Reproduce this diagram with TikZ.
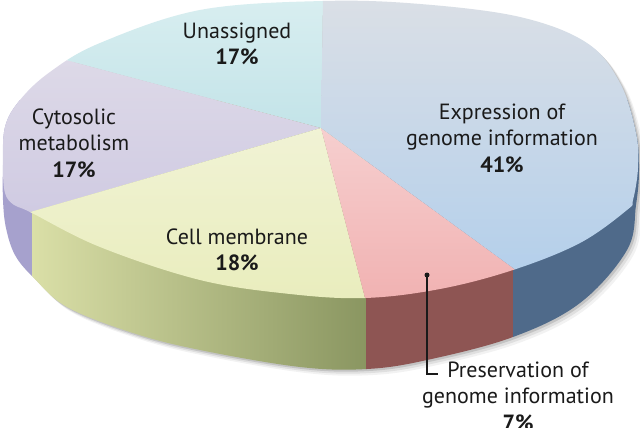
\documentclass[tikz,border=0pt]{standalone}
\usepackage{fontspec}
\setmainfont{PT Sans}
\definecolor{cyanA}{HTML}{D8EEF0}
\definecolor{cyanB}{HTML}{C2E3E8}
\definecolor{purA}{HTML}{DEDAE8}
\definecolor{purB}{HTML}{CFCAE2}
\definecolor{yelA}{HTML}{F1F3D6}
\definecolor{yelB}{HTML}{E9EDBD}
\definecolor{pinkA}{HTML}{F6D0D0}
\definecolor{pinkB}{HTML}{F1B2B2}
\definecolor{bluA}{HTML}{DADFE6}
\definecolor{bluB}{HTML}{B3CFEB}
\definecolor{sidePur}{HTML}{A6A1CD}
\definecolor{sideGrnA}{HTML}{DADFA7}
\definecolor{sideGrnB}{HTML}{8A9661}
\definecolor{sideRed}{HTML}{8E5553}
\definecolor{sideBlu}{HTML}{4F6A8A}
\definecolor{txt}{HTML}{1A1A1A}
\begin{document}
\begin{tikzpicture}[x=1pt,y=-1pt,
  lbl/.style={align=center, font=\fontsize{22}{26.5}\selectfont, text=txt, inner sep=0pt}]
\useasboundingbox (0,0) rectangle (640,428);
\fill[white] (0,0) rectangle (640,428);
\coordinate (A) at (321,128);
% silhouette (top face + side)
\path[save path=\silh] plot[smooth cycle, tension=0.6] coordinates {
 (3,165) (5,127) (20,100) (50,72) (100,43) (200,10) (323,1) (420,4) (520,17)
 (587,43) (620,83) (636,133) (639,170) (636,205) (627,250) (580,303) (513,337)
 (427,360) (367,369) (300,367) (200,350) (133,333) (67,307) (33,277) (15,255)
 (6,228) (3,200)};
% top face
\path[save path=\topface] plot[smooth cycle, tension=0.6] coordinates {
 (3,165) (5,127) (20,100) (50,72) (100,43) (200,10) (323,1) (420,4) (520,17)
 (587,43) (620,83) (636,133) (638,168) (633,200) (627,210) (580,243) (513,270)
 (440,289) (365,298) (290,294) (200,280) (100,247) (30,212) (14,205) (5,193)};
% soft shadow
\begin{scope}[transform canvas={shift={(6pt,-6pt)}}]
 \fill[black,opacity=0.05,use path=\silh];
\end{scope}
\begin{scope}[transform canvas={shift={(4pt,-4pt)}}]
 \fill[black,opacity=0.08,use path=\silh];
\end{scope}
\begin{scope}[transform canvas={shift={(2pt,-2pt)}}]
 \fill[black,opacity=0.12,use path=\silh];
\end{scope}
% side wall
\begin{scope}
 \clip[use path=\silh];
 \fill[sidePur] (-10,100) rectangle (32,420);
 \shade[left color=sideGrnA, right color=sideGrnB] (32,100) rectangle (366,420);
 \fill[sideRed] (366,100) rectangle (513,420);
 \fill[sideBlu] (513,100) rectangle (650,420);
\end{scope}
% top face sectors
\begin{scope}
 \clip[use path=\topface];
 \begin{scope}
  \clip (A) -- (325,-130) -- (-190,-130) -- (-190,-8) -- cycle;
  \shade[top color=cyanA, bottom color=cyanB] (0,0) rectangle (330,135);
 \end{scope}
 \begin{scope}
  \clip (A) -- (-190,-8) -- (-260,296) -- cycle;
  \shade[top color=purA, bottom color=purB] (0,50) rectangle (330,220);
 \end{scope}
 \begin{scope}
  \clip (A) -- (-260,296) -- (-260,500) -- (409,468) -- cycle;
  \shade[top color=yelA, bottom color=yelB] (0,120) rectangle (380,300);
 \end{scope}
 \begin{scope}
  \clip (A) -- (409,468) -- (705,408) -- cycle;
  \shade[top color=pinkA, bottom color=pinkB] (300,120) rectangle (520,300);
 \end{scope}
 \begin{scope}
  \clip (A) -- (705,408) -- (705,-130) -- (325,-130) -- cycle;
  \shade[top color=bluA, bottom color=bluB] (320,0) rectangle (640,280);
 \end{scope}
\end{scope}
% labels
\node[lbl] (unas) at (237,44) {Unassigned\\\textbf{17\%}};
\node[lbl] (cyto) at (74,143) {Cytosolic\\metabolism\\\textbf{17\%}};
\node[lbl] (expr) at (502,138) {Expression of\\genome information\\\textbf{41\%}};
\node[lbl] (cell) at (237,250) {Cell membrane\\\textbf{18\%}};
\node[lbl] (pres) at (518,396) {Preservation of\\genome information\\\textbf{7\%}};
% leader
\node[circle, fill=txt, inner sep=0pt, minimum size=5pt] (dot) at (427,275) {};
\coordinate (pend) at (438,374);
\draw[txt, line width=1.3pt] (dot.center) |- (pend);
\end{tikzpicture}
\end{document}
